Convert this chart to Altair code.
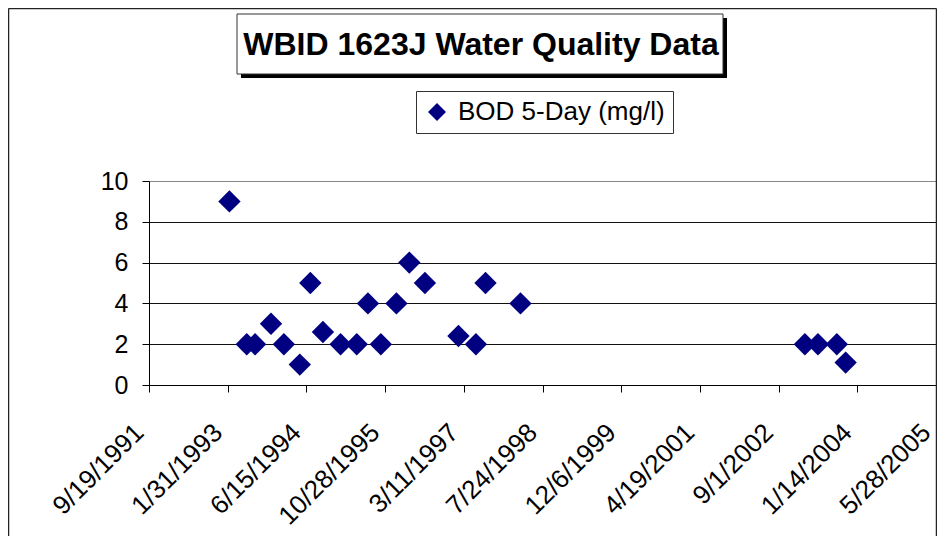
import altair as alt
import pandas as pd

# ---- data ----
sample_dates = ["1993-02-11", "1993-06-01", "1993-07-24", "1993-11-02", "1994-01-23", "1994-05-04",
                "1994-07-10", "1994-09-28", "1995-01-18", "1995-05-01", "1995-07-11", "1995-10-01",
                "1996-01-08", "1996-03-30", "1996-07-07", "1997-02-05", "1997-05-27", "1997-07-27",
                "1998-03-06", "2003-02-15", "2003-05-09", "2003-09-06", "2003-11-01"]
bod_values = [9, 2, 2, 3, 2, 1, 5, 2.6, 2, 2, 4, 2, 4, 6, 5, 2.4, 2, 5, 4, 2, 2, 2, 1.1]
series_name = "BOD 5-Day (mg/l)"
x_tick_dates = ["1991-09-19", "1993-01-31", "1994-06-15", "1995-10-28", "1997-03-11", "1998-07-24",
                "1999-12-06", "2001-04-19", "2002-09-01", "2004-01-14", "2005-05-28"]
y_ticks = [0, 2, 4, 6, 8, 10]
title_text = "WBID 1623J Water Quality Data"

FONT = "Liberation Sans"
NAVY = "#000080"


def ms(d):
    return int(pd.Timestamp(d, tz="UTC").value // 10**6)


tick_ms = [ms(d) for d in x_tick_dates]

df = pd.DataFrame({"date": sample_dates, "bod": bod_values, "series": [series_name] * len(bod_values)})
one = pd.DataFrame({"k": [0]})

W, H = 787, 204
PAD = {"left": 141, "top": 173, "right": 1, "bottom": 151}
BOTTOM = H + PAD["bottom"]

# outer chart-area border (left, top, right)
frame_left = alt.Chart(one).mark_rule(color="#222", strokeWidth=1.5).encode(
    x=alt.value(-140.5), y=alt.value(-172.5), y2=alt.value(BOTTOM))
frame_top = alt.Chart(one).mark_rule(color="#222", strokeWidth=1.5).encode(
    x=alt.value(-140.5), x2=alt.value(W + 0.5), y=alt.value(-172.5))
frame_right = alt.Chart(one).mark_rule(color="#222", strokeWidth=1.5).encode(
    x=alt.value(W + 0.5), y=alt.value(-172.5), y2=alt.value(BOTTOM))

# title box with shadow
shadow = alt.Chart(one).mark_rect(color="black").encode(
    x=alt.value(92), x2=alt.value(578), y=alt.value(-163), y2=alt.value(-103))
tbox = alt.Chart(one).mark_rect(fill="white", stroke="#333", strokeWidth=1).encode(
    x=alt.value(88), x2=alt.value(574), y=alt.value(-167), y2=alt.value(-107))
ttext = alt.Chart(one).mark_text(text=title_text, font=FONT, fontSize=32, fontWeight="bold",
                                 align="center", baseline="middle", color="black").encode(
    x=alt.value(332), y=alt.value(-136))

points = alt.Chart(df).mark_point(shape="diamond", filled=True, size=500, opacity=1).encode(
    x=alt.X("date:T",
            scale=alt.Scale(type="utc", domain=[tick_ms[0], tick_ms[-1]], nice=False),
            axis=alt.Axis(values=tick_ms, format="%-m/%-d/%Y", title=None, grid=False,
                          labelAngle=315, labelAlign="right", labelBaseline="middle",
                          labelPadding=36, labelOffset=-10, tickSize=7,
                          labelFont=FONT, labelFontSize=26, labelColor="black",
                          domainColor="black", tickColor="black", labelFlush=False,
                          labelOverlap=False, labelBound=False)),
    y=alt.Y("bod:Q",
            scale=alt.Scale(domain=[0, 10], nice=False, zero=True),
            axis=alt.Axis(values=y_ticks, title=None, grid=True,
                          gridColor={"condition": {"test": "datum.value == 10", "value": "#888888"},
                                     "value": "#111111"},
                          tickSize=7, labelPadding=14, labelFont=FONT, labelFontSize=25,
                          labelColor="black", domainColor="black", tickColor="black")),
    color=alt.Color("series:N", scale=alt.Scale(range=[NAVY]),
                    legend=alt.Legend(orient="none", legendX=267, legendY=-90, title=None,
                                      padding=8, strokeColor="#333", fillColor="white",
                                      symbolType="diamond", symbolSize=324, symbolStrokeWidth=0,
                                      labelFont=FONT, labelFontSize=26, labelColor="black",
                                      labelOffset=8, labelLimit=400)),
)

chart = alt.layer(frame_left, frame_top, frame_right, shadow, tbox, ttext, points).properties(
    width=W, height=H,
    autosize=alt.AutoSizeParams(type="none"),
    padding=PAD,
    background="white",
).configure_view(stroke="#888888", strokeWidth=1)

chart.save("out.html", embed_options={"renderer": "svg", "actions": False})
